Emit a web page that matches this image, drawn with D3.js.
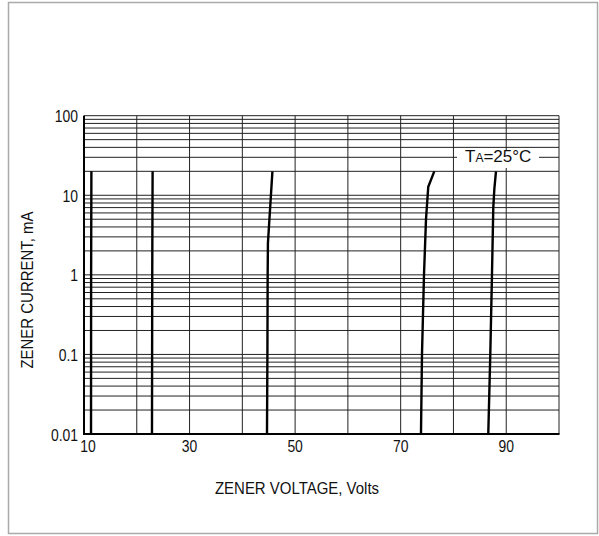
<!DOCTYPE html>
<html><head><meta charset="utf-8">
<script src="https://cdn.jsdelivr.net/npm/d3@7"></script>
<style>body{margin:0;background:#fff}svg{display:block}text{font-family:"Liberation Sans",Arial,sans-serif;fill:#111}</style>
</head><body>
<svg id="c" width="599" height="536"></svg>
<script>
const xDomain = [10, 100];
const yDomain = [0.01, 100];
const xTickLabels = [10, 30, 50, 70, 90];
const yTickLabels = [0.01, 0.1, 1, 10, 100];
const xGrid = [10, 20, 30, 40, 50, 60, 70, 80, 90, 100];
const curve1 = [[11.33, 0.01], [11.35, 1], [11.4, 20]];
const curve2 = [[22.88, 0.01], [22.93, 1], [23.0, 20]];
const curve3 = [[44.67, 0.01], [44.75, 0.1], [44.8, 1], [44.85, 2.5], [45.7, 20]];
const curve4 = [[73.85, 0.01], [74.04, 0.1], [74.42, 1], [74.8, 5], [75.23, 12.8], [76.37, 20]];
const curve5 = [[86.6, 0.01], [86.98, 0.1], [87.3, 1], [87.55, 7], [87.75, 12], [88.06, 20]];
const curves = [curve1, curve2, curve3, curve4, curve5];
const legendText = ["T", "A", "=25°C"];
const xTitle = "ZENER VOLTAGE, Volts";
const yTitle = "ZENER CURRENT, mA";

const svg = d3.select("#c");
const L = 84, R = 559, T = 115.7, B = 434;
const x = d3.scaleLinear().domain(xDomain).range([L, R]);
const y = d3.scaleLog().domain(yDomain).range([B, T]);

// frame
svg.append("rect").attr("x", 8.5).attr("y", 2.5).attr("width", 589).attr("height", 531)
  .attr("fill", "none").attr("stroke", "#aaa").attr("stroke-width", 1.5);

// horizontal grid
const yGrid = [];
for (let e = -2; e < 2; e++) for (let m = 1; m < 10; m++) yGrid.push(m * Math.pow(10, e));
yGrid.push(100);
const g = svg.append("g");
g.selectAll(".hg").data(yGrid).enter().append("line")
  .attr("x1", L).attr("x2", R).attr("y1", d => y(d)).attr("y2", d => y(d))
  .attr("stroke", "#222").attr("stroke-width", 1);
g.selectAll(".vg").data(xGrid).enter().append("line")
  .attr("y1", T).attr("y2", B).attr("x1", d => x(d)).attr("x2", d => x(d))
  .attr("stroke", "#222").attr("stroke-width", 1);

// axes lines
svg.append("line").attr("x1", L).attr("x2", L).attr("y1", T).attr("y2", B + 1).attr("stroke", "#000").attr("stroke-width", 2);
svg.append("line").attr("x1", L - 1).attr("x2", R + 0.5).attr("y1", B).attr("y2", B).attr("stroke", "#000").attr("stroke-width", 2);

// legend box
svg.append("rect").attr("x", 457).attr("y", 150).attr("width", 82).attr("height", 18).attr("fill", "#fff");
const lt = svg.append("text").attr("x", 465).attr("y", 162).attr("font-size", 17);
lt.append("tspan").text(legendText[0]);
lt.append("tspan").attr("font-size", 12).text(legendText[1]);
lt.append("tspan").text(legendText[2]);

// curves
const line = d3.line().x(d => x(d[0])).y(d => y(d[1]));
svg.selectAll(".cv").data(curves).enter().append("path")
  .attr("d", line).attr("fill", "none").attr("stroke", "#000").attr("stroke-width", 2.4);

// tick labels
svg.selectAll(".yl").data(yTickLabels).enter().append("text")
  .attr("transform", d => `translate(78,${y(d) + 6.5}) scale(0.87,1)`)
  .attr("text-anchor", "end").attr("font-size", 16)
  .text(d => String(d));
svg.selectAll(".xl").data(xTickLabels).enter().append("text")
  .attr("transform", (d, i) => `translate(${x(d) + (i === 0 ? 4 : 0)},451.5) scale(0.87,1)`)
  .attr("text-anchor", "middle").attr("font-size", 16)
  .text(d => String(d));

// titles
svg.append("text").attr("transform", "translate(297,494) scale(0.96,1)").attr("text-anchor", "middle").attr("font-size", 15.6).text(xTitle);
svg.append("text").attr("transform", "translate(33,290) rotate(-90) scale(0.96,1)").attr("text-anchor", "middle").attr("font-size", 15.6).text(yTitle);
</script>
</body></html>
